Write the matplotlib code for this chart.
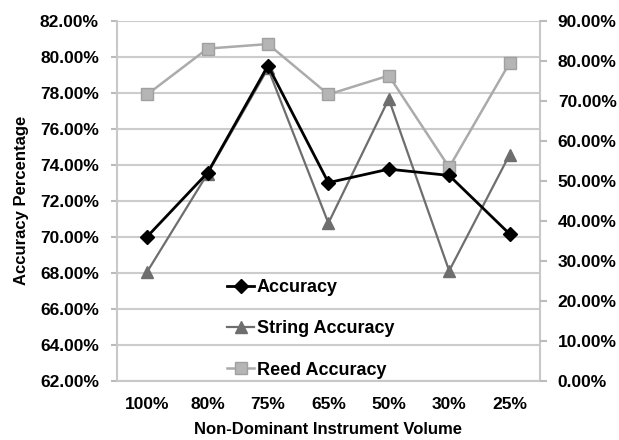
import matplotlib.pyplot as plt
from matplotlib.ticker import FuncFormatter

plt.rcParams['font.family'] = ['Liberation Sans', 'DejaVu Sans']
plt.rcParams['font.weight'] = 'bold'

# data (percent, on the left axis scale)
volumes = ["100%", "80%", "75%", "65%", "50%", "30%", "25%"]
accuracy = [70.0, 73.55, 79.5, 73.0, 73.75, 73.4, 70.15]
string_acc = [68.05, 73.5, 79.35, 70.75, 77.65, 68.1, 74.55]
reed_acc = [77.9, 80.45, 80.7, 77.9, 78.95, 73.85, 79.65]

left_ticks = [62, 64, 66, 68, 70, 72, 74, 76, 78, 80, 82]
right_ticks = [0, 10, 20, 30, 40, 50, 60, 70, 80, 90]

fig = plt.figure(figsize=(6.19, 4.40), dpi=100)
ax = fig.add_axes([0.189, 0.135, 0.683, 0.818])
x = list(range(len(volumes)))

ax.plot(x, reed_acc, color='#ababab', lw=1.8, marker='s', ms=8,
        mfc='#b5b5b5', mec='#a0a0a0', label='Reed Accuracy', zorder=3)
ax.plot(x, string_acc, color='#6e6e6e', lw=1.6, marker='^', ms=8,
        label='String Accuracy', zorder=4)
ax.plot(x, accuracy, color='black', lw=2, marker='D', ms=7,
        label='Accuracy', zorder=5)

ax.set_xlim(-0.5, len(volumes) - 0.5)
ax.set_ylim(62, 82)
ax.set_xticks(x)
ax.set_xticklabels(volumes)
ax.set_yticks(left_ticks)
ax.yaxis.set_major_formatter(FuncFormatter(lambda v, p: f"{v:.2f}%"))
ax.grid(axis='y', color='#cccccc', lw=1.5)
ax.set_axisbelow(True)
ax.tick_params(axis='x', length=0, labelsize=12.5, pad=12)
ax.tick_params(axis='y', length=4, color='#bbbbbb', width=1.5, labelsize=12.5, pad=9)
ax.spines['top'].set_visible(False)
for s in ['left', 'right', 'bottom']:
    ax.spines[s].set_color('#c8c8c8')
    ax.spines[s].set_linewidth(1.5)

ax2 = ax.twinx()
ax2.set_ylim(0, 90)
ax2.set_yticks(right_ticks)
ax2.yaxis.set_major_formatter(FuncFormatter(lambda v, p: f"{v:.2f}%"))
ax2.tick_params(axis='y', length=5, color='#bbbbbb', width=1.5, labelsize=12.5, pad=8)
for s in ax2.spines.values():
    s.set_visible(False)

ax.set_xlabel("Non-Dominant Instrument Volume", fontsize=12, fontweight='bold', labelpad=7)
ax.set_ylabel("Accuracy Percentage", fontsize=12, fontweight='bold', labelpad=8)

h, l = ax.get_legend_handles_labels()
ax.legend(h[::-1], l[::-1], loc='lower left', bbox_to_anchor=(0.222, -0.04),
          frameon=False, fontsize=13, handlelength=1.5, handletextpad=0.15,
          labelspacing=1.35)

fig.savefig("out.png", dpi=100)
